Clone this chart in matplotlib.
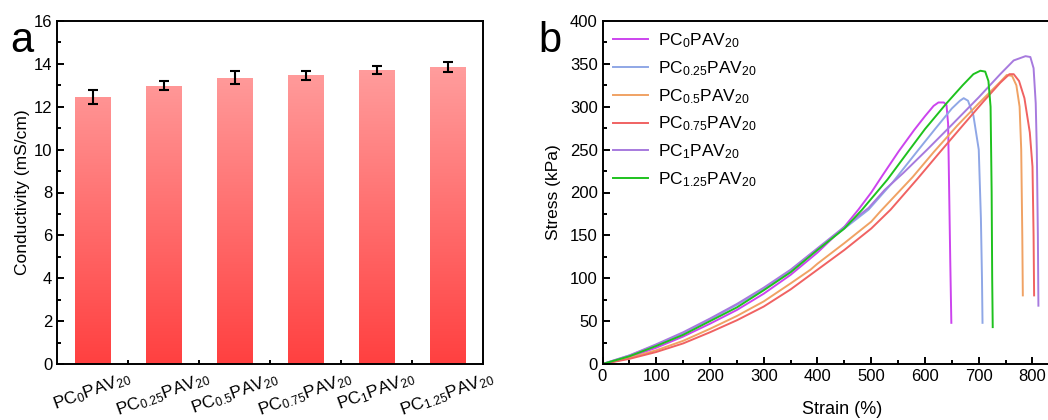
import numpy as np
import matplotlib
matplotlib.use("Agg")
import matplotlib.pyplot as plt
from matplotlib.ticker import MultipleLocator
from matplotlib.colors import LinearSegmentedColormap

plt.rcParams['font.family'] = ['Liberation Sans', 'DejaVu Sans']
plt.rcParams['mathtext.default'] = 'regular'

# --- panel a: conductivity bars ---
samples = ['PC$_0$PAV$_{20}$', 'PC$_{0.25}$PAV$_{20}$', 'PC$_{0.5}$PAV$_{20}$',
           'PC$_{0.75}$PAV$_{20}$', 'PC$_1$PAV$_{20}$', 'PC$_{1.25}$PAV$_{20}$']
conductivity = [12.46, 12.99, 13.36, 13.48, 13.72, 13.85]
cond_err = [0.31, 0.22, 0.29, 0.21, 0.17, 0.22]

# --- panel b: stress-strain curves ---
strain_0 = [0, 50, 100, 150, 200, 250, 300, 350, 400, 450, 476, 500, 521, 551, 580, 600, 616, 625, 635, 640, 643, 645, 647, 649]
stress_0 = [0, 8, 19, 32, 47, 63, 82, 104, 130, 160, 180, 200, 220, 248, 273, 289, 301, 305, 305, 302, 280, 200, 120, 48]

strain_025 = [0, 50, 100, 150, 200, 250, 300, 350, 400, 450, 495, 540, 588, 620, 650, 665, 672, 680, 690, 700, 704, 706, 707]
stress_025 = [0, 10, 22, 36, 52, 69, 87, 109, 134, 158, 180, 212, 250, 275, 298, 307, 310, 307, 290, 250, 170, 100, 48]

strain_05 = [0, 50, 100, 150, 200, 250, 300, 350, 387, 400, 450, 500, 517, 577, 616, 660, 700, 740, 752, 762, 770, 776, 779, 781, 782]
stress_05 = [0, 7, 16, 27, 41, 56, 73, 94, 110, 117, 141, 166, 178, 218, 247, 278, 304, 329, 337, 336, 325, 300, 250, 150, 80]

strain_075 = [0, 50, 100, 150, 200, 250, 300, 350, 400, 450, 500, 536, 586, 629, 670, 710, 740, 757, 765, 775, 785, 795, 800, 802, 803]
stress_075 = [0, 6, 14, 24, 37, 51, 67, 87, 110, 133, 158, 180, 216, 248, 278, 307, 328, 338, 338, 330, 310, 270, 230, 150, 80]

strain_1 = [0, 50, 100, 150, 200, 250, 300, 350, 400, 450, 495, 525, 560, 604, 650, 700, 740, 765, 787, 796, 802, 806, 808, 810, 811]
stress_1 = [0, 10, 23, 37, 53, 70, 89, 110, 135, 160, 182, 203, 223, 250, 279, 311, 338, 354, 359, 358, 345, 304, 250, 150, 68]

strain_125 = [0, 50, 100, 150, 200, 250, 300, 350, 400, 450, 483, 530, 569, 600, 640, 670, 690, 703, 712, 718, 722, 724, 725, 726]
stress_125 = [0, 9, 21, 34, 50, 66, 86, 107, 133, 158, 180, 215, 248, 274, 304, 325, 338, 342, 341, 330, 300, 200, 100, 43]

curves = [(strain_0, stress_0, '#cc44ee'),
          (strain_025, stress_025, '#8fa7e6'),
          (strain_05, stress_05, '#f0a264'),
          (strain_075, stress_075, '#f06262'),
          (strain_1, stress_1, '#a77ade'),
          (strain_125, stress_125, '#1ec21e')]

fig = plt.figure(figsize=(10.48, 4.2), dpi=100)

# ---------------- a ----------------
ax1 = fig.add_axes([57/1048, 1 - 364/420, 426/1048, 343/420])
x = np.arange(len(samples))
bars = ax1.bar(x, conductivity, width=0.5, color='none', edgecolor='none', zorder=2)

# vertical red gradient clipped to each bar
cmap = LinearSegmentedColormap.from_list('redgrad', ['#ff4040', '#ff9e9e'])
grad = np.linspace(0, 1, 256).reshape(-1, 1)
for b in bars:
    im = ax1.imshow(grad, cmap=cmap, origin='lower', aspect='auto',
                    extent=[-0.5, 5.5, 0, 14], zorder=2, vmin=0, vmax=1)
    im.set_clip_path(b)
ax1.set_xlim(-0.5, 5.5)
ax1.set_ylim(0, 16)

ax1.errorbar(x, conductivity, yerr=cond_err, fmt='none', ecolor='black',
             elinewidth=1.5, capsize=3.5, capthick=1.5, zorder=3)

ax1.set_xticks(x)
ax1.set_xticklabels(samples, rotation=20, ha='center', fontsize=12.5)
ax1.set_xticks(x + 0.5, minor=True)
ax1.yaxis.set_major_locator(MultipleLocator(2))
ax1.yaxis.set_minor_locator(MultipleLocator(1))
ax1.tick_params(which='both', direction='in', labelsize=12, width=1.4)
ax1.tick_params(axis='x', labelsize=12.5)
ax1.tick_params(which='major', length=5)
ax1.tick_params(which='minor', length=3)
ax1.set_ylabel('Conductivity (mS/cm)', fontsize=12.5, labelpad=2.5)
for s in ax1.spines.values():
    s.set_linewidth(1.4)

fig.text(10/1048, 1 - 52/420, 'a', fontsize=30)

# ---------------- b ----------------
ax2 = fig.add_axes([602.5/1048, 1 - 364/420, 480/1048, 343/420])
for (sx, sy, c), lab in zip(curves, samples):
    ax2.plot(sx, sy, color=c, lw=1.4, label=lab)

ax2.set_xlim(0, 480 / 0.5375)
ax2.set_ylim(0, 400)
ax2.set_xticks([0, 100, 200, 300, 400, 500, 600, 700, 800])
ax2.xaxis.set_minor_locator(MultipleLocator(50))
ax2.yaxis.set_major_locator(MultipleLocator(50))
ax2.yaxis.set_minor_locator(MultipleLocator(25))
ax2.tick_params(which='both', direction='in', labelsize=12, width=1.4)
ax2.tick_params(which='major', length=5)
ax2.tick_params(which='minor', length=3)
ax2.set_xlabel('Strain (%)', fontsize=13, labelpad=12)
ax2.set_ylabel('Stress (kPa)', fontsize=12.5, labelpad=6)
ax2.spines['right'].set_visible(False)
for s in ax2.spines.values():
    s.set_linewidth(1.4)

ax2.legend(loc='upper left', frameon=False, fontsize=12.5, handlelength=2.0,
           handletextpad=0.6, labelspacing=0.52, borderaxespad=0.2,
           bbox_to_anchor=(0.0, 1.0))

fig.text(538/1048, 1 - 52/420, 'b', fontsize=30)

fig.savefig('out.png', dpi=100)
